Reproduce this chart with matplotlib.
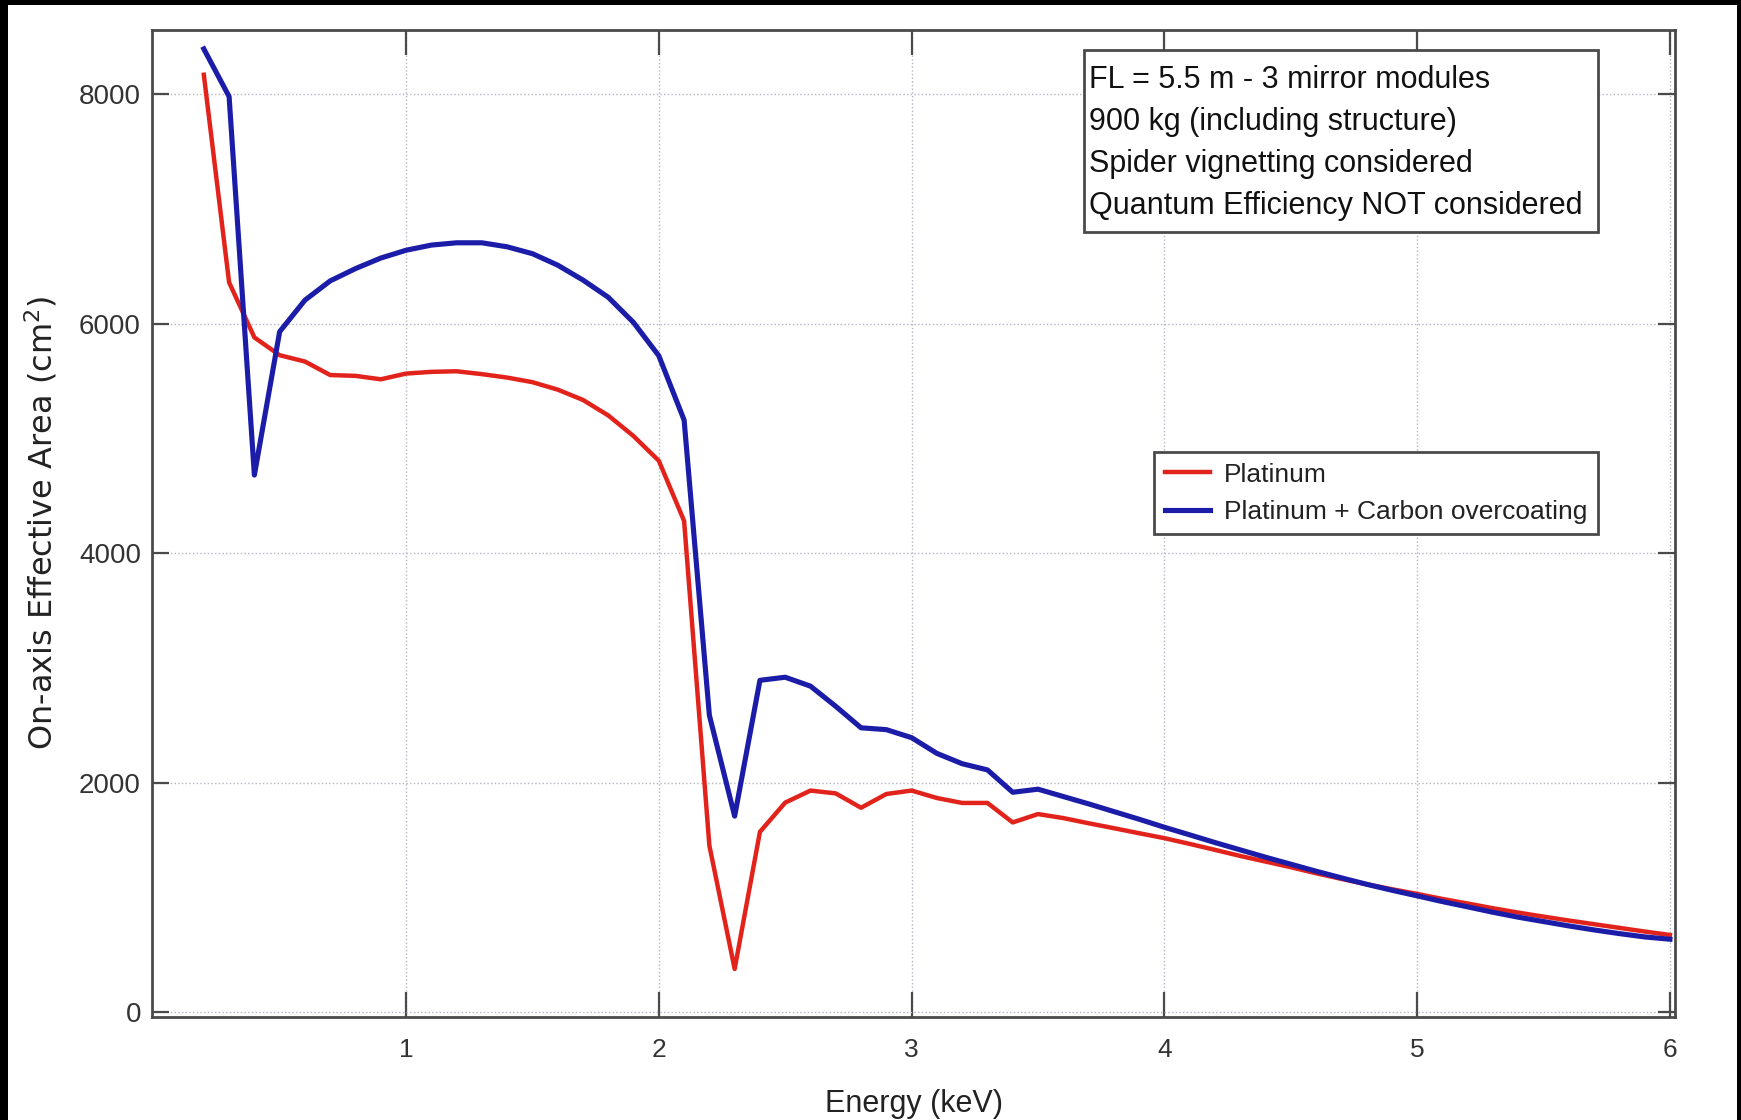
#!/usr/bin/env python3
import numpy as np
import matplotlib
matplotlib.use("Agg")
import matplotlib.pyplot as plt
from matplotlib.patches import Rectangle

# energy grid (keV) and on-axis effective area (cm^2)
energy = [0.2, 0.3, 0.4, 0.5, 0.6, 0.7, 0.8, 0.9, 1.0, 1.1,
          1.2, 1.3, 1.4, 1.5, 1.6, 1.7, 1.8, 1.9, 2.0, 2.1,
          2.2, 2.3, 2.4, 2.5, 2.6, 2.7, 2.8, 2.9, 3.0, 3.1,
          3.2, 3.3, 3.4, 3.5, 3.6, 3.7, 3.8, 3.9, 4.0, 4.1,
          4.2, 4.3, 4.4, 4.5, 4.6, 4.7, 4.8, 4.9, 5.0, 5.1,
          5.2, 5.3, 5.4, 5.5, 5.6, 5.7, 5.8, 5.9, 6.0]

platinum = [8170, 6360, 5880, 5725, 5670, 5552, 5545, 5515, 5565, 5580,
            5585, 5560, 5530, 5490, 5425, 5335, 5200, 5020, 4805, 4280,
            1450, 375, 1570, 1825, 1930, 1905, 1780, 1900, 1930, 1865,
            1822, 1822, 1652, 1725, 1690, 1645, 1602, 1558, 1515, 1465,
            1413, 1360, 1311, 1262, 1209, 1160, 1113, 1070, 1029, 985,
            945, 904, 866, 831, 797, 765, 733, 701, 671]

platinum_carbon = [8395, 7980, 4680, 5930, 6205, 6373, 6480, 6572, 6640, 6685,
                   6705, 6705, 6670, 6610, 6510, 6380, 6230, 6010, 5720, 5160,
                   2586, 1707, 2891, 2918, 2840, 2664, 2477, 2461, 2391, 2254,
                   2164, 2110, 1915, 1942, 1878, 1814, 1747, 1680, 1610, 1544,
                   1477, 1413, 1349, 1288, 1227, 1169, 1113, 1061, 1012, 962,
                   916, 869, 826, 788, 750, 715, 683, 654, 634]

info_lines = ["FL = 5.5 m - 3 mirror modules",
              "900 kg (including structure)",
              "Spider vignetting considered",
              "Quantum Efficiency NOT considered"]

W, H = 1741, 1120
fig = plt.figure(figsize=(W / 100, H / 100), dpi=100)
fig.patch.set_facecolor("black")
# white page inside the black frame of the screenshot
fig.patches.append(Rectangle((8 / W, 0), (1737 - 8) / W, (H - 5) / H,
                             transform=fig.transFigure, facecolor="white",
                             edgecolor="none", zorder=-10))

ax_l, ax_r, ax_t, ax_b = 152, 1675, 30, 1017
ax = fig.add_axes([ax_l / W, (H - ax_b) / H, (ax_r - ax_l) / W, (ax_b - ax_t) / H])
ax.set_zorder(1)

ax.plot(energy, platinum, color="#e2231c", lw=3.2, label="Platinum", zorder=3)
ax.plot(energy, platinum_carbon, color="#1b1ca8", lw=3.7,
        label="Platinum + Carbon overcoating", zorder=4)

ax.set_xlim(-0.005, 6.02)
ax.set_ylim(-44, 8560)
ax.set_xticks([1, 2, 3, 4, 5, 6])
ax.set_yticks([0, 2000, 4000, 6000, 8000])
ax.grid(True, ls=":", color="#b4b4c4", lw=1.0, zorder=1)

for s in ax.spines.values():
    s.set_color("#4a4a4a")
    s.set_linewidth(2)

ax.tick_params(axis="both", direction="in", top=True, right=True,
               color="#4a4a4a", width=1.6)
ax.tick_params(axis="x", length=18, pad=15, labelsize=19, labelcolor="#333333")
ax.tick_params(axis="y", length=12, pad=8, labelsize=20, labelcolor="#333333")
for lab in ax.get_xticklabels() + ax.get_yticklabels():
    lab.set_family("Liberation Sans")

fig.text(41 / W, (H - 523) / H, "On-axis Effective Area (cm$^2$)",
         rotation=90, ha="center", va="center", fontsize=23,
         family="DejaVu Sans", color="#222222", zorder=2)
fig.text((ax_l + ax_r) / 2 / W, (H - 1112) / H, "Energy (keV)",
         ha="center", va="baseline", fontsize=22,
         family="Liberation Sans", color="#222222", zorder=2)

# info box, top right
def to_ax(px, py):
    return (px - ax_l) / (ax_r - ax_l), (ax_b - py) / (ax_b - ax_t)

bx0, by0 = to_ax(1084, 232)
bx1, by1 = to_ax(1598, 50)
ax.add_patch(Rectangle((bx0, by0), bx1 - bx0, by1 - by0, transform=ax.transAxes,
                       facecolor="white", edgecolor="#4a4a4a", lw=2, zorder=5))
for i, line in enumerate(info_lines):
    tx, ty = to_ax(1089, 80 + 42 * i)
    ax.text(tx, ty, line, transform=ax.transAxes, ha="left", va="center",
            fontsize=22, family="Liberation Sans", color="#111111", zorder=6)

lx, ly = to_ax(1598, 452)
leg = ax.legend(loc="upper right", bbox_to_anchor=(lx, ly), borderaxespad=0,
                fancybox=False, framealpha=1, edgecolor="#4a4a4a",
                prop={"family": "Liberation Sans", "size": 19},
                handlelength=1.7, handletextpad=0.55, labelspacing=0.5,
                borderpad=0.4)
leg.get_frame().set_linewidth(2)
leg.set_zorder(7)
for t in leg.get_texts():
    t.set_color("#222222")

fig.savefig("out.png", dpi=100, facecolor=fig.get_facecolor())
